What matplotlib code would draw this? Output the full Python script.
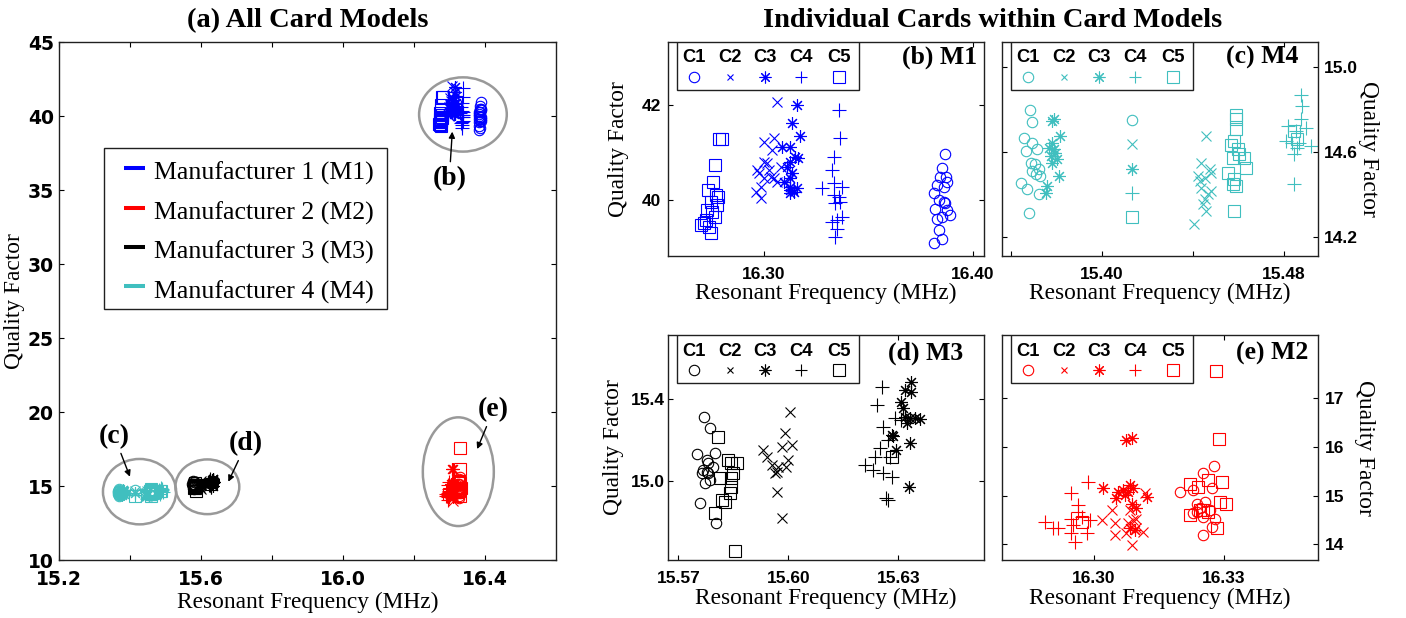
import matplotlib
matplotlib.use("Agg")
import matplotlib.pyplot as plt
from matplotlib.patches import Ellipse, Rectangle

SERIF = "Liberation Serif"

# ---- data: resonant frequency (MHz) and quality factor, per card C1..C5 ----
m1_freq = [
    [16.3868, 16.3852, 16.3873, 16.3844, 16.3876, 16.3828, 16.3860, 16.3812, 16.3836, 16.3860,
     16.3868, 16.3820, 16.3876, 16.3892, 16.3852, 16.3828, 16.3836, 16.3852, 16.3812],
    [16.3064, 16.3000, 16.3048, 16.3040, 16.3000, 16.3016, 16.2976, 16.3024, 16.3032, 16.3000,
     16.2984, 16.2960, 16.2984, 16.3048, 16.3064, 16.3080, 16.2968],
    [16.3159, 16.3135, 16.3172, 16.3127, 16.3088, 16.3151, 16.3162, 16.3127, 16.3111, 16.3135,
     16.3127, 16.3096, 16.3127, 16.3124, 16.3127, 16.3159, 16.3143],
    [16.3358, 16.3366, 16.3334, 16.3326, 16.3334, 16.3279, 16.3374, 16.3334, 16.3358, 16.3366,
     16.3342, 16.3374, 16.3326, 16.3350, 16.3350, 16.3342],
    [16.2785, 16.2801, 16.2764, 16.2758, 16.2732, 16.2769, 16.2782, 16.2745, 16.2729, 16.2753,
     16.2764, 16.2721, 16.2697, 16.2737, 16.2745, 16.2713, 16.2774],
]
m1_q = [
    [40.97, 40.67, 40.49, 40.49, 40.39, 40.32, 40.28, 40.14, 40.00, 39.96,
     39.93, 39.82, 39.79, 39.68, 39.65, 39.61, 39.37, 39.19, 39.10],
    [42.07, 41.23, 41.30, 41.05, 40.81, 40.77, 40.56, 40.63, 40.49, 40.46,
     40.28, 40.18, 40.04, 40.46, 40.39, 40.70, 40.63],
    [42.00, 41.61, 41.35, 41.12, 41.12, 40.91, 40.88, 40.81, 40.70, 40.56,
     40.46, 40.39, 40.28, 40.21, 40.14, 40.25, 40.18],
    [41.89, 41.30, 40.91, 40.63, 40.35, 40.25, 40.28, 40.11, 40.07, 39.96,
     39.93, 39.65, 39.54, 39.58, 39.40, 39.23],
    [41.28, 41.28, 40.74, 40.39, 40.21, 40.11, 40.07, 39.96, 39.79, 39.75,
     39.65, 39.58, 39.47, 39.44, 39.31, 39.51, 39.89],
]

m2_freq = [
    [16.3278, 16.3252, 16.3198, 16.3229, 16.3272, 16.3237, 16.3256, 16.3245, 16.3268, 16.3229,
     16.3252, 16.3279, 16.3272, 16.3252, 16.3237],
    [16.3041, 16.3018, 16.3048, 16.3048, 16.3083, 16.3079, 16.3091, 16.3098, 16.3114, 16.3087,
     16.3098, 16.3118, 16.3075],
    [16.3075, 16.3087, 16.3022, 16.3056, 16.3068, 16.3083, 16.3091, 16.3052, 16.3087, 16.3122,
     16.3098, 16.3083, 16.3095, 16.3079, 16.3072],
    [16.2887, 16.2906, 16.2918, 16.2948, 16.2964, 16.2987, 16.2964, 16.2972, 16.2948, 16.2952,
     16.2956, 16.2948, 16.2983, 16.2991],
    [16.3282, 16.3289, 16.2972, 16.3222, 16.3241, 16.3264, 16.3295, 16.3306, 16.3291, 16.3252,
     16.3264, 16.3222, 16.3245, 16.3283],
]
m2_q = [
    [15.61, 15.46, 15.08, 15.12, 15.15, 14.84, 14.88, 14.74, 14.71, 14.64,
     14.57, 14.53, 14.36, 14.19, 14.67],
    [14.71, 14.50, 14.43, 14.19, 14.71, 14.43, 14.50, 14.33, 14.26, 13.99,
     14.53, 15.05, 14.23],
    [16.14, 16.18, 15.15, 15.08, 15.12, 15.22, 15.15, 14.95, 14.84, 14.98,
     14.74, 14.33, 14.29, 15.08, 15.01],
    [14.45, 14.33, 14.33, 15.05, 14.81, 15.29, 14.67, 14.57, 14.53, 14.40,
     14.05, 14.23, 14.23, 14.50],
    [17.57, 16.17, 14.47, 15.25, 15.18, 15.32, 15.29, 14.84, 14.88, 14.71,
     14.67, 14.60, 14.71, 14.33],
]

m3_freq = [
    [15.5771, 15.5786, 15.5750, 15.5777, 15.5800, 15.5768, 15.5777, 15.5782, 15.5764, 15.5773,
     15.5786, 15.5795, 15.5759, 15.5803, 15.5782],
    [15.6005, 15.5991, 15.6009, 15.5932, 15.5941, 15.5982, 15.6000, 15.5955, 15.5973, 15.5964,
     15.5968, 15.5995, 15.5968, 15.5982],
    [15.6336, 15.6318, 15.6336, 15.6309, 15.6314, 15.6318, 15.6332, 15.6345, 15.6359, 15.6323,
     15.6282, 15.6286, 15.6332, 15.6295, 15.6330],
    [15.6255, 15.6241, 15.6291, 15.6259, 15.6309, 15.6273, 15.6250, 15.6236, 15.6277, 15.6209,
     15.6232, 15.6259, 15.6282, 15.6268, 15.6273],
    [15.5809, 15.5836, 15.5859, 15.5845, 15.5850, 15.5814, 15.5845, 15.5841, 15.5818, 15.5827,
     15.5800, 15.5855, 15.5845, 15.6282],
]
m3_q = [
    [15.314, 15.257, 15.132, 15.102, 15.135, 15.054, 15.046, 15.037, 15.037, 14.989,
     15.005, 15.070, 14.891, 14.793, 15.086],
    [15.338, 15.233, 15.176, 15.151, 15.119, 15.167, 15.102, 15.078, 15.070, 15.037,
     15.046, 15.070, 14.948, 14.818],
    [15.485, 15.444, 15.436, 15.387, 15.354, 15.314, 15.306, 15.306, 15.301, 15.281,
     15.224, 15.220, 15.187, 15.151, 14.972],
    [15.460, 15.371, 15.306, 15.265, 15.298, 15.200, 15.159, 15.119, 15.119, 15.078,
     15.054, 15.037, 15.021, 14.915, 14.907],
    [15.216, 15.102, 15.086, 15.086, 15.037, 15.013, 14.972, 14.940, 14.907, 14.899,
     14.842, 14.660, 15.013, 15.119],
]

m4_freq = [
    [15.3683, 15.3692, 15.3658, 15.3695, 15.3665, 15.3716, 15.3687, 15.3706, 15.3724, 15.3709,
     15.3727, 15.3692, 15.3644, 15.3673, 15.3724, 15.3680, 15.4134],
    [15.4458, 15.4436, 15.4473, 15.4422, 15.4451, 15.4429, 15.4480, 15.4436, 15.4480, 15.4465,
     15.4451, 15.4444, 15.4458, 15.4404, 15.4134],
    [15.3789, 15.3782, 15.3818, 15.3782, 15.3767, 15.3789, 15.3796, 15.3775, 15.3804, 15.3782,
     15.3811, 15.3760, 15.3753, 15.4134],
    [15.4134, 15.4873, 15.4880, 15.4815, 15.4873, 15.4895, 15.4851, 15.4807, 15.4836, 15.4865,
     15.4858, 15.4916, 15.4844, 15.4844],
    [15.4589, 15.4589, 15.4589, 15.4582, 15.4567, 15.4596, 15.4604, 15.4575, 15.4625, 15.4633,
     15.4553, 15.4582, 15.4589, 15.4575, 15.4579, 15.4134, 15.4844, 15.4855],
]
m4_q = [
    [14.798, 14.739, 14.666, 14.642, 14.603, 14.611, 14.548, 14.541, 14.517, 14.494,
     14.486, 14.509, 14.455, 14.423, 14.400, 14.314, 14.748],
    [14.673, 14.548, 14.517, 14.486, 14.478, 14.463, 14.502, 14.431, 14.416, 14.400,
     14.377, 14.353, 14.322, 14.259, 14.638],
    [14.752, 14.744, 14.673, 14.642, 14.619, 14.611, 14.595, 14.580, 14.564, 14.548,
     14.486, 14.439, 14.408, 14.520],
    [14.408, 14.869, 14.814, 14.723, 14.755, 14.713, 14.697, 14.650, 14.642, 14.642,
     14.619, 14.627, 14.588, 14.447],
    [14.775, 14.752, 14.705, 14.650, 14.634, 14.611, 14.588, 14.572, 14.572, 14.525,
     14.502, 14.470, 14.439, 14.447, 14.322, 14.294, 14.697, 14.658],
]

card_labels = ["C1", "C2", "C3", "C4", "C5"]
card_markers = ["o", "x", (8, 2, 0), "+", "s"]
card_ms = [7.5, 7.5, 9, 9.5, 8.5]
legend_ms = [7.5, 5, 8.5, 9, 8.5]

model_labels = ["Manufacturer 1 (M1)", "Manufacturer 2 (M2)",
                "Manufacturer 3 (M3)", "Manufacturer 4 (M4)"]
model_colors = ["#0000ff", "#ff0000", "#000000", "#40bfbf"]

W, H = 1406, 618
fig = plt.figure(figsize=(W / 100, H / 100), dpi=100)


def px_axes(l, t, r, b):
    return fig.add_axes([l / W, 1 - b / H, (r - l) / W, (b - t) / H])


def draw_cards(ax, freq, q, color):
    for f, v, m, ms in zip(freq, q, card_markers, card_ms):
        ax.plot(f, v, ls="none", marker=m, ms=ms, mfc="none", mec=color, mew=0.8)


def style(ax, xt, xl, yt, yl, font, fsize, xpad, ypad):
    ax.set_xticks(xt)
    ax.set_xticklabels(xl, fontfamily=font, fontweight="bold", fontsize=fsize)
    ax.set_yticks(yt)
    ax.set_yticklabels(yl, fontfamily=font, fontweight="bold", fontsize=fsize)
    ax.tick_params(direction="in", top=True, right=True, left=True, bottom=True,
                   length=3.4, width=0.8)
    ax.tick_params(axis="x", pad=xpad)
    ax.tick_params(axis="y", pad=ypad)
    for s in ax.spines.values():
        s.set_linewidth(1.0)
        s.set_color("#202020")


def card_legend(ax, color, tag, tag_x, tag_y):
    hpx = ax.get_position().height * H
    ax.add_patch(Rectangle((0.029, 1 - 48 / hpx), 0.574, 48 / hpx, transform=ax.transAxes,
                           fc="white", ec="#202020", lw=1.0, zorder=5))
    xs = [0.084, 0.196, 0.308, 0.422, 0.540]
    for x, lab, m, ms in zip(xs, card_labels, card_markers, legend_ms):
        ax.text(x, 1 - 16 / hpx, lab, transform=ax.transAxes, ha="center", va="center",
                fontfamily="Liberation Sans", fontweight="bold", fontsize=13.2, zorder=6)
        ax.plot([x], [1 - 35 / hpx], transform=ax.transAxes, marker=m, ms=ms, mfc="none",
                mec=color, mew=0.8, ls="none", zorder=6, clip_on=False)
    ax.text(tag_x, tag_y, tag, transform=ax.transAxes, ha="right", va="baseline",
            fontfamily=SERIF, fontweight="bold", fontsize=18.5)


# ---------------- (a) all card models ----------------
ax = px_axes(59.3, 42.3, 556.3, 560)
all_freq = [m1_freq, m2_freq, m3_freq, m4_freq]
all_q = [m1_q, m2_q, m3_q, m4_q]
for f, v, c in zip(all_freq, all_q, model_colors):
    draw_cards(ax, f, v, c)
ax.set_xlim(15.2, 16.6)
ax.set_ylim(10, 45)
style(ax, [15.2, 15.4, 15.6, 15.8, 16.0, 16.2, 16.4],
      ["15.2", "", "15.6", "", "16.0", "", "16.4"],
      [10, 15, 20, 25, 30, 35, 40, 45], ["10", "15", "20", "25", "30", "35", "40", "45"],
      "DejaVu Sans", 13.5, 7, 4)
ax.set_title("(a) All Card Models", fontfamily=SERIF, fontweight="bold", fontsize=20.5, pad=11)
ax.set_xlabel("Resonant Frequency (MHz)", fontfamily=SERIF, fontsize=16.8, labelpad=2)
ax.set_ylabel("Quality Factor", fontfamily=SERIF, fontsize=16.8, labelpad=2)

# grey ellipses around each model cluster
ellipses = [(16.337, 40.12, 0.247, 5.02), (15.426, 14.62, 0.206, 4.42),
            (15.617, 14.95, 0.180, 3.70), (16.324, 15.97, 0.200, 7.35)]
for cx, cy, w, h in ellipses:
    ax.add_patch(Ellipse((cx, cy), w, h, fill=False, ec="#999999", lw=1.8, zorder=3))

notes = [("(b)", (16.2986, 35.80), (16.307, 38.96)),
         ("(c)", (15.3555, 18.33), (15.399, 15.63)),
         ("(d)", (15.7265, 17.84), (15.676, 15.29)),
         ("(e)", (16.423, 20.14), (16.377, 17.50))]
for txt, pos, tip in notes:
    ax.annotate(txt, xy=tip, xytext=pos, ha="center", va="center", fontfamily=SERIF,
                fontweight="bold", fontsize=20,
                arrowprops=dict(arrowstyle="-|>", color="black", lw=1.0, mutation_scale=9,
                                shrinkA=1, shrinkB=0))

# manufacturer legend
ax.add_patch(Rectangle((0.0905, 0.484), 0.5695, 0.311, transform=ax.transAxes,
                       fc="white", ec="#202020", lw=1.0, zorder=5))
for i, (lab, c) in enumerate(zip(model_labels, model_colors)):
    yl = 0.7566 - i * 0.0761
    ax.plot([0.1302, 0.1724], [yl, yl], transform=ax.transAxes, color=c, lw=2.9,
            solid_capstyle="butt", zorder=6)
    ax.text(0.1911, 0.734 - i * 0.0761, lab, transform=ax.transAxes, ha="left",
            va="baseline", fontfamily=SERIF, fontsize=18.6, zorder=6)

fig.text(993 / W, 1 - 26.7 / H, "Individual Cards within Card Models", ha="center",
         va="baseline", fontfamily=SERIF, fontweight="bold", fontsize=20.5)

SUB = "Liberation Sans"
TK = 12.5

# ---------------- (b) M1 ----------------
ax = px_axes(667.7, 41.7, 984.3, 255.7)
draw_cards(ax, m1_freq, m1_q, model_colors[0])
ax.set_xlim(16.254, 16.4054)
ax.set_ylim(38.83, 43.33)
style(ax, [16.30, 16.40], ["16.30", "16.40"], [40, 42], ["40", "42"], SUB, TK, 8, 5)
ax.set_xlabel("Resonant Frequency (MHz)", fontfamily=SERIF, fontsize=16.8, labelpad=1)
ax.set_ylabel("Quality Factor", fontfamily=SERIF, fontsize=16.8, labelpad=9)
card_legend(ax, model_colors[0], "(b) M1", 0.977, 0.896)

# ---------------- (c) M4 ----------------
ax = px_axes(1001.7, 41.7, 1318.3, 255.7)
draw_cards(ax, m4_freq, m4_q, model_colors[3])
ax.set_xlim(15.356, 15.495)
ax.set_ylim(14.112, 15.117)
style(ax, [15.36, 15.40, 15.44, 15.48], ["", "15.40", "", "15.48"],
      [14.2, 14.6, 15.0], ["14.2", "14.6", "15.0"], SUB, TK, 8, 4)
ax.yaxis.tick_right()
ax.tick_params(axis="y", left=True, right=True, labelleft=False, labelright=True)
ax.yaxis.set_label_position("right")
ax.set_xlabel("Resonant Frequency (MHz)", fontfamily=SERIF, fontsize=16.8, labelpad=1)
ax.set_ylabel("Quality Factor", fontfamily=SERIF, fontsize=16.8, rotation=270,
              va="bottom", labelpad=0)
card_legend(ax, model_colors[3], "(c) M4", 0.937, 0.899)

# ---------------- (d) M3 ----------------
ax = px_axes(667.7, 335, 984.3, 560)
draw_cards(ax, m3_freq, m3_q, model_colors[2])
ax.set_xlim(15.5671, 15.6535)
ax.set_ylim(14.615, 15.712)
style(ax, [15.57, 15.60, 15.63], ["15.57", "15.60", "15.63"],
      [15.0, 15.4], ["15.0", "15.4"], SUB, TK, 8, 2)
ax.set_xlabel("Resonant Frequency (MHz)", fontfamily=SERIF, fontsize=16.8, labelpad=1)
ax.set_ylabel("Quality Factor", fontfamily=SERIF, fontsize=16.8, labelpad=5)
card_legend(ax, model_colors[2], "(d) M3", 0.932, 0.889)

# ---------------- (e) M2 ----------------
ax = px_axes(1001.7, 335, 1318.3, 560)
draw_cards(ax, m2_freq, m2_q, model_colors[1])
ax.set_xlim(16.2787, 16.3518)
ax.set_ylim(13.68, 18.3)
style(ax, [16.30, 16.33], ["16.30", "16.33"], [14, 15, 16, 17],
      ["14", "15", "16", "17"], SUB, TK, 8, 5)
ax.yaxis.tick_right()
ax.tick_params(axis="y", left=True, right=True, labelleft=False, labelright=True)
ax.yaxis.set_label_position("right")
ax.set_xlabel("Resonant Frequency (MHz)", fontfamily=SERIF, fontsize=16.8, labelpad=1)
ax.set_ylabel("Quality Factor", fontfamily=SERIF, fontsize=16.8, rotation=270,
              va="bottom", labelpad=7)
card_legend(ax, model_colors[1], "(e) M2", 0.968, 0.892)

fig.savefig("out.png", dpi=100)
